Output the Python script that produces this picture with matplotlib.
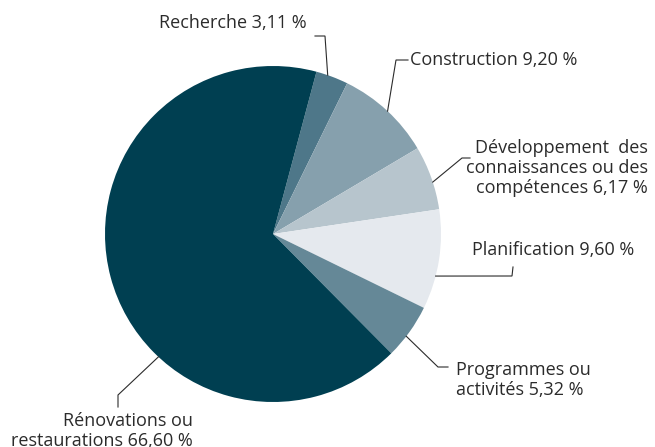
import numpy as np
import matplotlib.pyplot as plt

# part des dépenses par catégorie (%)
categories = ["Recherche", "Construction", "Développement  des\nconnaissances ou des\ncompétences",
              "Planification", "Programmes ou\nactivités", "Rénovations ou\nrestaurations"]
values = [3.11, 9.20, 6.17, 9.60, 5.32, 66.60]
colors = ["#4e7789", "#86a0ad", "#b7c5cd", "#e5e9ee", "#658897", "#003f51"]

W, H = 655, 447
fig = plt.figure(figsize=(W / 100, H / 100), dpi=100)
ax = fig.add_axes([0, 0, 1, 1])

cx, cy, r = 273, H - 234, 168
ax.pie(values, colors=colors, startangle=75, counterclock=False,
       center=(cx, cy), radius=r, frame=True,
       wedgeprops=dict(linewidth=0))
ax.set_xlim(0, W)
ax.set_ylim(0, H)
ax.set_aspect("equal")
ax.axis("off")

def fmt(v):
    return f"{v:.2f}".replace(".", ",") + " %"

# mise en page des étiquettes : angle d'ancrage, coude, fin du trait, texte
layout = [
    dict(ang=71, elbow=(325, 36), end=(315, 36), txt=(307, 23), ha="right"),
    dict(ang=47, elbow=(396, 60), end=(408, 60), txt=(410, 60), ha="left"),
    dict(ang=18, elbow=(462, 158), end=(470, 158), txt=(648, 168), ha="right"),
    dict(ang=-14.5, elbow=(512, 276), end=(513, 267), txt=(472, 250), ha="left"),
    dict(ang=-37.5, elbow=(438, 367), end=(448, 367), txt=(456, 380), ha="left"),
    dict(ang=-133, elbow=(118, 395), end=(118, 407), txt=(193, 431), ha="right"),
]

for cat, v, lay in zip(categories, values, layout):
    a = np.deg2rad(lay["ang"])
    x0, y0 = cx + r * np.cos(a), cy + r * np.sin(a)
    ex, ey = lay["elbow"]
    fx, fy = lay["end"]
    ax.plot([x0, ex, fx], [y0, H - ey, H - fy], color="#2b2b2b", lw=0.8,
            solid_joinstyle="miter")
    tx, ty = lay["txt"]
    ax.text(tx, H - ty, cat + " " + fmt(v), ha=lay["ha"], va="center",
            multialignment=lay["ha"], fontsize=13, family="Open Sans",
            color="#2b2b2b", linespacing=1.12)

fig.savefig("out.png", dpi=100, facecolor="white")
